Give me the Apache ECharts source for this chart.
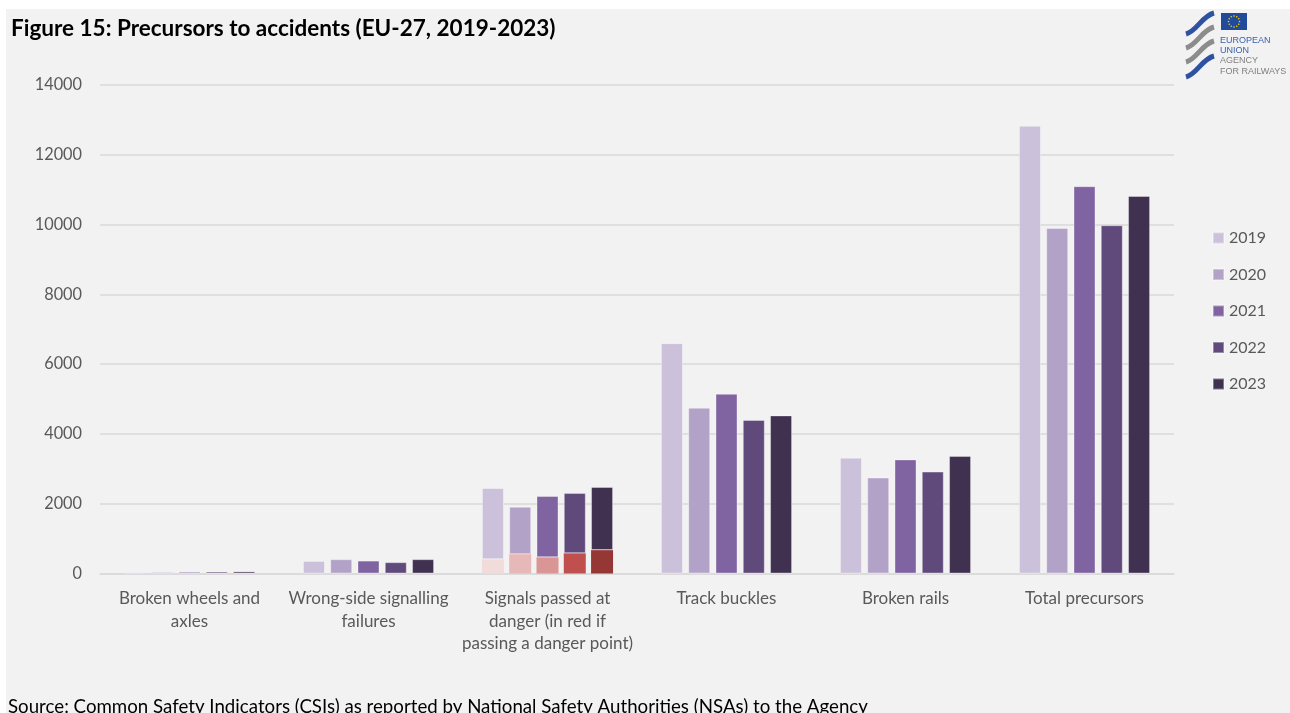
<!DOCTYPE html>
<html>
<head>
<meta charset="utf-8">
<script src="https://cdn.jsdelivr.net/npm/echarts@6/dist/echarts.min.js"></script>
<style>
  html, body { margin: 0; padding: 0; background: #ffffff; }
  #panel { position: absolute; left: 6px; top: 9px; right: 0; bottom: 0; background: #f2f2f2; }
  #chart { position: absolute; left: 0; top: 0; width: 1290px; height: 713px; }
</style>
</head>
<body>
<div id="panel"></div>
<div id="chart"></div>
<script>
// Precursor categories
const categories = [
  'Broken wheels and\naxles',
  'Wrong-side signalling\nfailures',
  'Signals passed at\ndanger (in red if\npassing a danger point)',
  'Track buckles',
  'Broken rails',
  'Total precursors'
];
const years = ['2019', '2020', '2021', '2022', '2023'];

// Number of precursors per year, in category order
const v2019 = [40, 360, 2450, 6600, 3320, 12830];
const v2020 = [45, 410, 1910, 4750, 2750, 9900];
const v2021 = [50, 370, 2220, 5150, 3270, 11100];
const v2022 = [55, 325, 2310, 4400, 2920, 9980];
const v2023 = [60, 410, 2480, 4530, 3370, 10820];

// SPADs that passed a danger point (subset of "Signals passed at danger")
const dangerPoint2019 = 410;
const dangerPoint2020 = 555;
const dangerPoint2021 = 465;
const dangerPoint2022 = 580;
const dangerPoint2023 = 670;

const yTicks = [0, 2000, 4000, 6000, 8000, 10000, 12000, 14000];

const yearValues = [v2019, v2020, v2021, v2022, v2023];
const dangerPoints = [dangerPoint2019, dangerPoint2020, dangerPoint2021, dangerPoint2022, dangerPoint2023];
const purples = ['#ccc1da', '#b3a2c7', '#8064a2', '#604a7b', '#403151'];
const reds = ['#f2dcdb', '#e6b9b8', '#d99694', '#c0504d', '#953735'];
const SPAD = 2;

const FONT = 'Lato, "Open Sans", sans-serif';
const series = [];
years.forEach((y, i) => {
  // red part at the bottom of the SPAD bar
  series.push({
    name: 'Passing a danger point ' + y,
    type: 'bar',
    stack: 's' + y,
    barWidth: 22,
    barGap: '24%',
    itemStyle: { color: reds[i] },
    emphasis: { disabled: true },
    data: categories.map((c, k) => (k === SPAD ? dangerPoints[i] : 0))
  });
  // yearly totals; the SPAD bar continues on top of the red part
  series.push({
    name: y,
    type: 'bar',
    stack: 's' + y,
    barWidth: 22,
    barGap: '24%',
    itemStyle: { color: purples[i], borderColor: 'rgba(255,255,255,0.35)', borderWidth: 1 },
    emphasis: { disabled: true },
    data: yearValues[i].map((v, k) => (k === SPAD ? v - dangerPoints[i] : v))
  });
});

// Agency logo: curved stripes, flag with star ring, name
const logo = [];
const stripes = [
  { y0: 34, y1: 13, color: '#2f52a0' },
  { y0: 48, y1: 27, color: '#8c8c8c' },
  { y0: 62, y1: 41, color: '#8c8c8c' },
  { y0: 77, y1: 56, color: '#2f52a0' }
];
stripes.forEach(s => {
  logo.push({
    type: 'bezierCurve',
    shape: { x1: 1186, y1: s.y0, cpx1: 1197, cpy1: s.y0 - 3, cpx2: 1202, cpy2: s.y1 + 3, x2: 1214, y2: s.y1 },
    style: { stroke: s.color, lineWidth: 5, fill: null }
  });
});
logo.push({ type: 'rect', shape: { x: 1221, y: 13, width: 26, height: 17 }, style: { fill: '#224a9a' } });
for (let k = 0; k < 12; k++) {
  const a = (k / 12) * Math.PI * 2;
  logo.push({ type: 'circle', shape: { cx: 1234 + 5.5 * Math.cos(a), cy: 21.5 + 5.5 * Math.sin(a), r: 0.8 }, style: { fill: '#f5d300' } });
}
[['EUROPEAN', 42, '#3b62ad'], ['UNION', 52, '#3b62ad'], ['AGENCY', 62, '#7f7f7f'], ['FOR RAILWAYS', 73, '#7f7f7f']].forEach(t => {
  logo.push({
    type: 'text', left: 1220, top: t[1] - 5.5,
    style: { text: t[0], fill: t[2], font: '9px "Liberation Sans Narrow", "Liberation Sans", sans-serif' }
  });
});

const chart = echarts.init(document.getElementById('chart'), null, { renderer: 'canvas' });
chart.setOption({
  backgroundColor: 'transparent',
  animation: false,
  title: {
    text: 'Figure 15: Precursors to accidents (EU-27, 2019-2023)',
    left: 6, top: 12,
    textStyle: { fontFamily: FONT, fontWeight: 'bold', fontSize: 22.5, color: '#000000' }
  },
  legend: {
    data: years,
    orient: 'vertical',
    left: 1207, top: 225,
    itemWidth: 11, itemHeight: 11, itemGap: 20.5,
    icon: 'rect',
    selectedMode: false,
    textStyle: { fontFamily: FONT, fontSize: 16, color: '#595959', padding: [0, 0, 0, 0] }
  },
  grid: { left: 100, right: 116, top: 85, bottom: 139.5, containLabel: false },
  xAxis: {
    type: 'category',
    data: categories,
    axisLine: { lineStyle: { color: '#d9d9d9', width: 1.5 } },
    axisTick: { show: false },
    axisLabel: { interval: 0, margin: 14, fontFamily: FONT, fontSize: 17, lineHeight: 22.5, color: '#595959' }
  },
  yAxis: {
    type: 'value',
    min: yTicks[0], max: yTicks[yTicks.length - 1], interval: 2000,
    axisLine: { show: false },
    axisTick: { show: false },
    splitLine: { lineStyle: { color: '#d9d9d9', width: 1.5 } },
    axisLabel: { margin: 18, fontFamily: FONT, fontSize: 16.3, color: '#595959', formatter: v => String(v) }
  },
  graphic: logo.concat([{
    type: 'text', left: 8, top: 697,
    style: {
      text: 'Source: Common Safety Indicators (CSIs) as reported by National Safety Authorities (NSAs) to the Agency',
      fill: '#000000', font: '18.7px ' + FONT
    }
  }]),
  series: series
});
</script>
</body>
</html>
